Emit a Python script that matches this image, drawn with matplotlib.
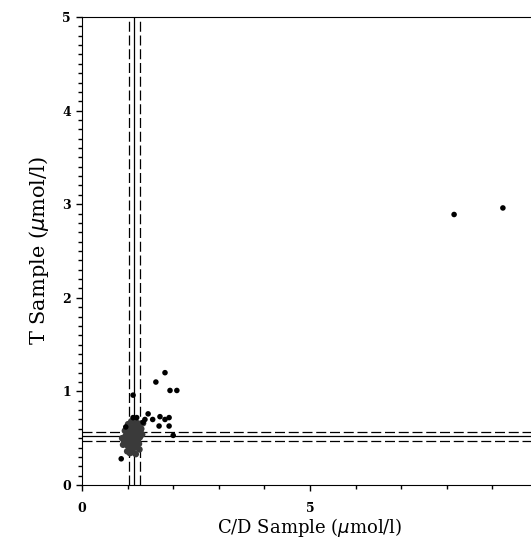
import matplotlib
matplotlib.use("Agg")
import matplotlib.pyplot as plt
from matplotlib.ticker import MultipleLocator

# outlying points
cd_outer = [1.82, 1.62, 1.93, 2.08, 1.12, 1.45, 1.55, 1.71, 1.82, 1.91, 1.69, 1.91,
            2.00, 1.38, 1.34, 1.12, 1.20, 0.96, 0.86, 8.16, 9.23]
t_outer = [1.20, 1.10, 1.01, 1.01, 0.96, 0.76, 0.70, 0.73, 0.70, 0.72, 0.63, 0.63,
           0.53, 0.70, 0.67, 0.72, 0.72, 0.62, 0.28, 2.89, 2.96]

# dense cluster near the reference limits
cd_cluster = [0.88, 0.92, 0.95, 0.97, 0.98, 1.00, 1.00, 1.02, 1.03, 1.04, 1.05, 1.06,
              1.07, 1.08, 1.09, 1.10, 1.10, 1.11, 1.12, 1.13, 1.14, 1.15, 1.16, 1.17,
              1.18, 1.19, 1.20, 1.21, 1.22, 1.23, 1.24, 1.25, 1.27, 1.28, 1.30, 1.32,
              1.34, 0.94, 0.99, 1.05, 1.12, 1.01, 1.08, 1.15, 0.90, 1.26, 1.18, 1.06,
              1.14, 1.22]
t_cluster = [0.50, 0.47, 0.52, 0.45, 0.55, 0.42, 0.50, 0.58, 0.46, 0.40, 0.53, 0.62,
             0.48, 0.44, 0.56, 0.50, 0.38, 0.60, 0.46, 0.53, 0.42, 0.57, 0.49, 0.64,
             0.45, 0.52, 0.58, 0.40, 0.48, 0.55, 0.62, 0.44, 0.51, 0.57, 0.60, 0.54,
             0.66, 0.58, 0.36, 0.34, 0.35, 0.65, 0.68, 0.70, 0.43, 0.38, 0.33, 0.56,
             0.62, 0.66]

# reference limits: (lower, mean, upper)
cd_limits = [1.03, 1.15, 1.27]
t_limits = [0.47, 0.52, 0.57]

plt.rcParams['font.family'] = ['DejaVu Serif']

fig = plt.figure(figsize=(5.31, 5.42), dpi=100)
ax = fig.add_axes([82 / 531, 57 / 542, 456 / 531, 468 / 542])

ax.scatter(cd_cluster, t_cluster, s=22, color='#3a3a3a', edgecolors='none', zorder=3)
ax.scatter(cd_outer, t_outer, s=16, color='black', edgecolors='none', zorder=3)

for i, v in enumerate(cd_limits):
    ls = '-' if i == 1 else (0, (8, 3))
    ax.axvline(v, color='black', lw=0.9, ls=ls, zorder=2)
for i, v in enumerate(t_limits):
    ls = '-' if i == 1 else (0, (8, 3))
    ax.axhline(v, color='black', lw=0.9, ls=ls, zorder=2)

ax.set_xlim(0, 10)
ax.set_ylim(0, 5)
ax.xaxis.set_major_locator(MultipleLocator(5))
ax.xaxis.set_minor_locator(MultipleLocator(1))
ax.yaxis.set_major_locator(MultipleLocator(1))
ax.yaxis.set_minor_locator(MultipleLocator(0.1))
ax.tick_params(which='major', length=4, width=1, labelsize=9, direction='out')
ax.tick_params(axis='x', which='major', pad=8)
ax.tick_params(axis='y', which='major', pad=4)
ax.tick_params(which='minor', length=3, width=1, direction='out')
for lab in ax.get_xticklabels() + ax.get_yticklabels():
    lab.set_fontweight('bold')
ax.spines['right'].set_visible(False)

ax.set_xlabel(r'C/D Sample ($\mu$mol/l)', fontsize=13, labelpad=1)
ax.set_ylabel(r'T Sample ($\mu$mol/l)', fontsize=15, labelpad=8)

fig.savefig('out.png', dpi=100)
